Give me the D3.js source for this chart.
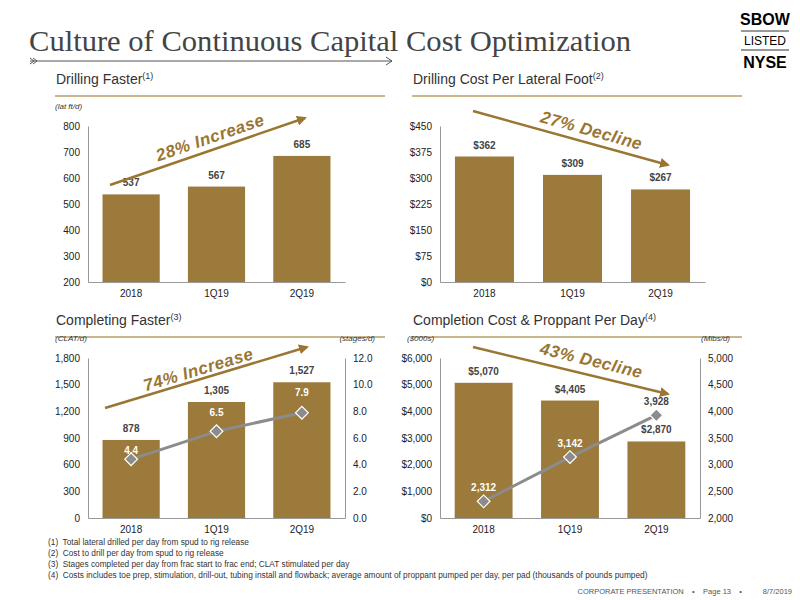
<!DOCTYPE html>
<html><head><meta charset="utf-8">
<script src="https://cdn.jsdelivr.net/npm/d3@7"></script>
<style>body{margin:0;background:#fff}text{font-family:"Liberation Sans",Arial,sans-serif}</style>
</head><body><svg id="c" width="800" height="600"></svg>
<script>
const categories = ['2018', '1Q19', '2Q19']
const drillSpeed = [537, 567, 685]
const drillCost = [362, 309, 267]
const completeClat = [878, 1305, 1527]
const completeStages = [4.4, 6.5, 7.9]
const completeCost = [5070, 4405, 2870]
const proppant = [2312, 3142, 3928]
const footnotes = [
  '(1)  Total lateral drilled per day from spud to rig release',
  '(2)  Cost to drill per day from spud to rig release',
  '(3)  Stages completed per day from frac start to frac end; CLAT stimulated per day',
  '(4)  Costs includes toe prep, stimulation, drill-out, tubing install and flowback; average amount of proppant pumped per day, per pad (thousands of pounds pumped)'
]

const BAR = '#9b7a3b', GOLD = '#9a7632', GREY = '#8c8c8c', LINE = '#c8b68f'
const svg = d3.select('#c')
svg.append('defs').append('marker').attr('id', 'ah').attr('viewBox', '0 0 10 10')
  .attr('refX', 8).attr('refY', 5).attr('markerWidth', 4).attr('markerHeight', 4).attr('orient', 'auto')
  .append('path').attr('d', 'M0,0L10,5L0,10z').attr('fill', GOLD)

// header
svg.append('text').attr('x', 29).attr('y', 51).style('font-family', '"Liberation Serif","DejaVu Serif",serif')
  .attr('font-size', 30).attr('fill', '#444').attr('textLength', 602).attr('lengthAdjust', 'spacingAndGlyphs')
  .text('Culture of Continuous Capital Cost Optimization')
svg.append('line').attr('x1', 30).attr('x2', 392).attr('y1', 61).attr('y2', 61).attr('stroke', '#555')
svg.append('path').attr('d', 'M386,57L392,61L386,65M30,58L34,61L30,64M33,58L37,61L33,64').attr('fill', 'none').attr('stroke', '#555')
const logo = svg.append('g').attr('font-weight', 'bold').attr('text-anchor', 'middle')
logo.append('text').attr('x', 765).attr('y', 25).attr('font-size', 16).text('SBOW')
logo.append('line').attr('x1', 741).attr('x2', 789).attr('y1', 31).attr('y2', 31).attr('stroke', '#333')
logo.append('text').attr('x', 765).attr('y', 45).attr('font-size', 12).attr('font-weight', 'normal').text('LISTED')
logo.append('line').attr('x1', 741).attr('x2', 789).attr('y1', 50).attr('y2', 50).attr('stroke', '#333')
logo.append('text').attr('x', 765).attr('y', 68).attr('font-size', 16).text('NYSE')

function header (x, y, w, title, sup) {
  const t = svg.append('text').attr('x', x).attr('y', y).attr('font-size', 14).attr('fill', '#333').text(title)
  t.append('tspan').attr('font-size', 9).attr('dy', -5).text(sup)
  svg.append('line').attr('x1', x - 1).attr('x2', x + w).attr('y1', y + 12).attr('y2', y + 12).attr('stroke', LINE).attr('stroke-width', 2)
}

function panel (o) {
  const x = d3.scaleBand().domain(categories).range([o.x0, o.x1]).paddingInner(0.33).paddingOuter(0.17)
  const y = d3.scaleLinear().domain(o.dom).range([o.yb, o.yt])
  const g = svg.append('g')
  const ax = g.append('g').attr('transform', `translate(${o.x0},0)`)
    .call(d3.axisLeft(y).tickValues(o.ticks).tickSize(0).tickPadding(8).tickFormat(o.fmt))
  ax.select('.domain').attr('stroke', '#999')
  const bx = g.append('g').attr('transform', `translate(0,${o.yb})`).call(d3.axisBottom(x).tickSize(0).tickPadding(8))
  bx.select('.domain').attr('stroke', '#999')
  g.selectAll('.tick text').attr('font-size', 10).attr('fill', '#222')
  g.selectAll('rect.bar').data(o.vals).join('rect').attr('class', 'bar')
    .attr('x', (d, i) => x(categories[i])).attr('width', x.bandwidth())
    .attr('y', d => y(d)).attr('height', d => o.yb - y(d)).attr('fill', BAR)
  g.selectAll('text.val').data(o.vals).join('text').attr('class', 'val')
    .attr('x', (d, i) => x(categories[i]) + x.bandwidth() / 2).attr('y', d => y(d) - 8)
    .attr('text-anchor', 'middle').attr('font-size', 10).attr('font-weight', 'bold').attr('fill', '#444')
    .text(o.lab)
  if (o.unit) g.append('text').attr('x', o.x0 - 33).attr('y', o.yt - 17).attr('font-size', 8).attr('font-style', 'italic').attr('fill', '#333').text(o.unit)
  if (o.line) {
    const l = o.line
    const y2 = d3.scaleLinear().domain(l.dom).range([o.yb, o.yt])
    const ra = g.append('g').attr('transform', `translate(${o.x1},0)`)
      .call(d3.axisRight(y2).tickValues(l.ticks).tickSize(0).tickPadding(8).tickFormat(l.fmt))
    ra.select('.domain').attr('stroke', '#999')
    ra.selectAll('.tick text').attr('font-size', 10).attr('fill', '#222')
    const cx = i => x(categories[i]) + x.bandwidth() / 2
    g.append('path').datum(l.vals).attr('fill', 'none').attr('stroke', GREY).attr('stroke-width', 3)
      .attr('d', d3.line().x((d, i) => cx(i)).y(d => y2(d)))
    g.selectAll('rect.dm').data(l.vals).join('rect').attr('class', 'dm')
      .attr('x', -4.5).attr('y', -4.5).attr('width', 9).attr('height', 9)
      .attr('transform', (d, i) => `translate(${cx(i)},${y2(d)}) rotate(45)`)
      .attr('fill', GREY).attr('stroke', '#fff').attr('stroke-width', 1.2)
    g.selectAll('text.lv').data(l.vals).join('text').attr('class', 'lv')
      .attr('x', (d, i) => cx(i)).attr('y', (d, i) => l.labY(d, i, y2, y))
      .attr('text-anchor', 'middle').attr('font-size', 10).attr('font-weight', 'bold')
      .attr('fill', (d, i) => l.labCol(i)).text(l.lab)
    g.append('text').attr('x', o.x1 + 30).attr('y', o.yt - 17).attr('text-anchor', 'end').attr('font-size', 8).attr('font-style', 'italic').attr('fill', '#333').text(l.unit)
  }
  const a = o.arrow
  g.append('line').attr('x1', a[0]).attr('y1', a[1]).attr('x2', a[2]).attr('y2', a[3])
    .attr('stroke', GOLD).attr('stroke-width', 2.5).attr('marker-end', 'url(#ah)')
  const ang = Math.atan2(a[3] - a[1], a[2] - a[0]) * 180 / Math.PI
  g.append('text').attr('transform', `translate(${a[4]},${a[5]}) rotate(${ang})`).attr('text-anchor', 'middle')
    .attr('font-size', 17).attr('font-weight', 'bold').attr('font-style', 'italic').attr('fill', GOLD)
    .attr('letter-spacing', 0.5).text(o.arrowText)
}

header(56, 84, 329, 'Drilling Faster', '(1)')
header(413, 84, 329, 'Drilling Cost Per Lateral Foot', '(2)')
header(56, 325, 329, 'Completing Faster', '(3)')
header(413, 325, 329, 'Completion Cost & Proppant Per Day', '(4)')

panel({ x0: 88, x1: 345, yb: 282, yt: 126, dom: [200, 800], ticks: d3.range(200, 801, 100), fmt: d3.format('d'),
  vals: drillSpeed, lab: d => d, unit: '(lat ft/d)',
  arrow: [110, 185, 305, 118, 212, 143], arrowText: '28% Increase' })
panel({ x0: 440, x1: 705, yb: 282, yt: 126, dom: [0, 450], ticks: d3.range(0, 451, 75), fmt: d => '$' + d,
  vals: drillCost, lab: d => '$' + d,
  arrow: [473, 111, 668, 165, 590, 136], arrowText: '27% Decline' })
panel({ x0: 88, x1: 345, yb: 518, yt: 358, dom: [0, 1800], ticks: d3.range(0, 1801, 300), fmt: d3.format(','),
  vals: completeClat, lab: d3.format(','), unit: '(CLAT/d)',
  arrow: [105, 408, 307, 347, 200, 375], arrowText: '74% Increase',
  line: { dom: [0, 12], ticks: d3.range(0, 12.1, 2), fmt: d3.format('.1f'), vals: completeStages, lab: d3.format('.1f'), unit: '(stages/d)',
    labY: (d, i, y2, y) => y(completeClat[i]) + 14, labCol: () => '#fff' } })
panel({ x0: 440, x1: 700, yb: 518, yt: 358, dom: [0, 6000], ticks: d3.range(0, 6001, 1000), fmt: d => '$' + d3.format(',')(d),
  vals: completeCost, lab: d => '$' + d3.format(',')(d), unit: '($000s)',
  arrow: [473, 347, 668, 394, 590, 366], arrowText: '43% Decline',
  line: { dom: [2000, 5000], ticks: d3.range(2000, 5001, 500), fmt: d3.format(','), vals: proppant, lab: d3.format(','), unit: '(Mlbs/d)',
    labY: (d, i, y2) => y2(d) - 10, labCol: i => i === 2 ? '#444' : '#fff' } })

svg.append('g').selectAll('text').data(footnotes).join('text').attr('x', 48).attr('y', (d, i) => 545 + i * 11)
  .attr('font-size', 8.3).attr('fill', '#333').style('white-space', 'pre').text(d => d)
svg.append('text').attr('x', 792).attr('y', 594).attr('text-anchor', 'end').attr('font-size', 7.5).attr('fill', '#555')
  .style('white-space', 'pre').text('CORPORATE PRESENTATION    •    Page 13    •          8/7/2019')
</script></body></html>
